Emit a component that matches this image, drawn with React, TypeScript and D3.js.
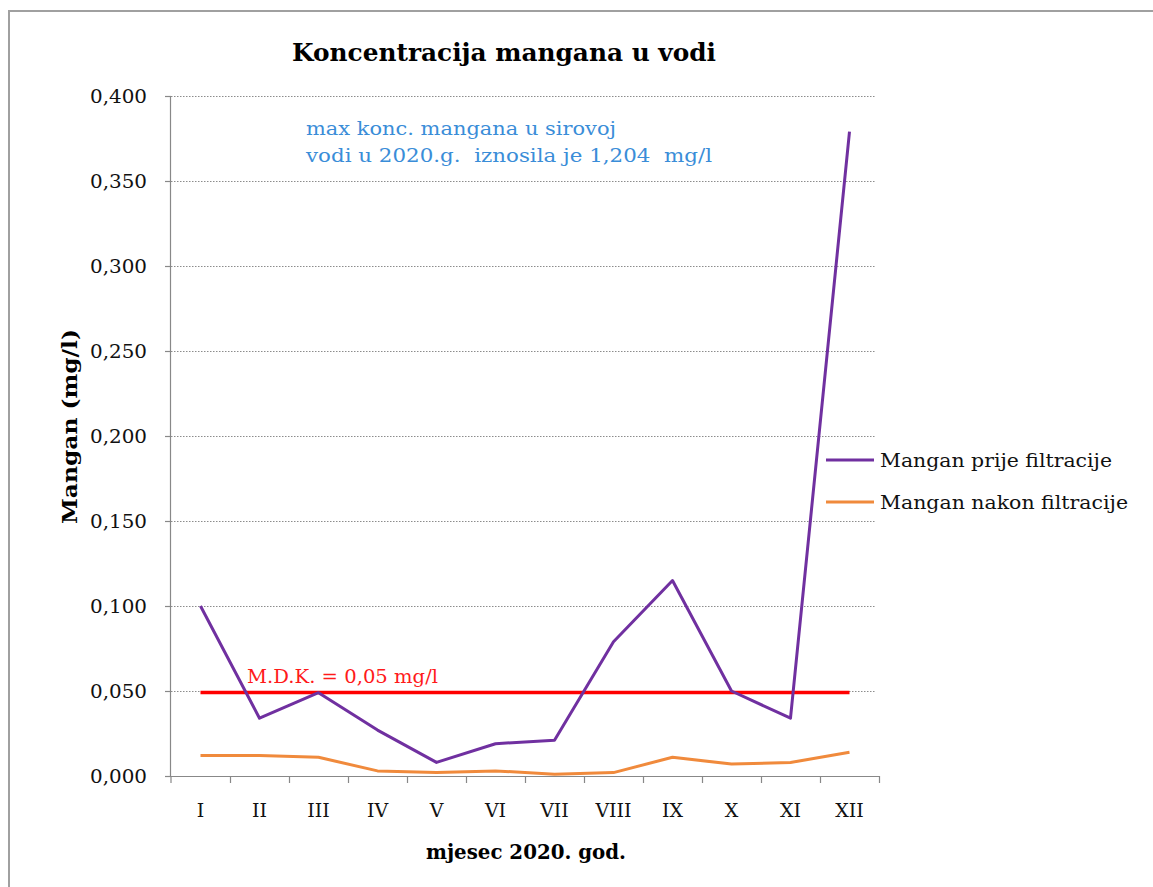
import React from "react";
import * as d3 from "d3";

const months = ["I", "II", "III", "IV", "V", "VI", "VII", "VIII", "IX", "X", "XI", "XII"];
const prije = [0.1, 0.034, 0.049, 0.027, 0.008, 0.019, 0.021, 0.079, 0.115, 0.05, 0.034, 0.379];
const nakon = [0.012, 0.012, 0.011, 0.003, 0.002, 0.003, 0.001, 0.002, 0.011, 0.007, 0.008, 0.014];
const mdk = 0.05;
const yTicks = [0, 0.05, 0.1, 0.15, 0.2, 0.25, 0.3, 0.35, 0.4];
const seriesNames = ["Mangan prije filtracije", "Mangan nakon filtracije"];
const seriesColors = ["#7030A0", "#F08A3C"];
const legendWidths = [232, 248];

const FONT = "'DejaVu Serif', serif";

export default function App() {
  const x = d3.scaleBand<string>().domain(months).range([171, 879]);
  const y = d3.scaleLinear().domain([0, 0.4]).range([776, 96]);
  const cx = (m: string) => (x(m) as number) + x.bandwidth() / 2;
  const line = d3
    .line<number>()
    .x((_, i) => cx(months[i]))
    .y((d) => y(d));
  const fmt = (v: number) => v.toFixed(3).replace(".", ",");

  return (
    <svg
      width={1153}
      height={887}
      style={{ position: "absolute", left: 0, top: 0, display: "block", background: "#fff" }}
      fontFamily={FONT}
    >
      <rect x={9} y={11} width={1200} height={950} fill="#fff" stroke="#a0a0a0" strokeWidth={2} />
      <text x={292} y={61} fontSize={24} fontWeight="bold" fill="#000" textLength={424} lengthAdjust="spacingAndGlyphs">
        Koncentracija mangana u vodi
      </text>
      {/* gridlines */}
      {yTicks.filter((t) => t > 0).map((t) => (
        <line key={t} x1={171} x2={876} y1={y(t) + 0.5} y2={y(t) + 0.5} stroke="#8c8c8c" strokeWidth={1} strokeDasharray="1.5,1.5" />
      ))}
      {/* y axis */}
      <line x1={170.5} x2={170.5} y1={96} y2={776} stroke="#888" strokeWidth={1.2} />
      {yTicks.map((t) => (
        <g key={"yt" + t}>
          <line x1={165} x2={171} y1={y(t) + 0.5} y2={y(t) + 0.5} stroke="#888" strokeWidth={1.2} />
          <text x={147} y={y(t) + 7} textAnchor="end" fontSize={19} fill="#111" textLength={57} lengthAdjust="spacingAndGlyphs">
            {fmt(t)}
          </text>
        </g>
      ))}
      {/* x axis */}
      <line x1={170} x2={879} y1={776.5} y2={776.5} stroke="#888" strokeWidth={1.2} />
      {months.map((m) => (
        <line key={"xt" + m} x1={(x(m) as number) + x.bandwidth() + 0.5} x2={(x(m) as number) + x.bandwidth() + 0.5} y1={776} y2={783} stroke="#888" strokeWidth={1.2} />
      ))}
      <line x1={171} x2={171} y1={776} y2={783} stroke="#888" strokeWidth={1.2} />
      {months.map((m) => (
        <text key={"xl" + m} x={cx(m)} y={817} textAnchor="middle" fontSize={19} fill="#111">
          {m}
        </text>
      ))}
      <text x={426} y={859} fontSize={20} fontWeight="bold" fill="#000" textLength={200} lengthAdjust="spacingAndGlyphs">
        mjesec 2020. god.
      </text>
      <text transform={`translate(77,524) rotate(-90)`} fontSize={20} fontWeight="bold" fill="#000" textLength={195} lengthAdjust="spacingAndGlyphs">
        Mangan (mg/l)
      </text>
      {/* annotation */}
      <text x={306} y={135} fontSize={19} fill="#3A8DD8" textLength={310} lengthAdjust="spacingAndGlyphs">max konc. mangana  u sirovoj</text>
      <text x={306} y={162} fontSize={19} fill="#3A8DD8" style={{ whiteSpace: "pre" }} textLength={406} lengthAdjust="spacingAndGlyphs">
        vodi u 2020.g.  iznosila je 1,204  mg/l
      </text>
      {/* MDK */}
      <line x1={cx("I")} x2={cx("XII")} y1={y(mdk) + 1.5} y2={y(mdk) + 1.5} stroke="#FF0000" strokeWidth={3.5} />
      <text x={247} y={683} fontSize={19} fill="#FF1A1A" textLength={191} lengthAdjust="spacingAndGlyphs">M.D.K. = 0,05 mg/l</text>
      {/* series */}
      <path d={line(nakon) as string} fill="none" stroke={seriesColors[1]} strokeWidth={3} strokeLinejoin="round" />
      <path d={line(prije) as string} fill="none" stroke={seriesColors[0]} strokeWidth={3} strokeLinejoin="round" />
      {/* legend */}
      {seriesNames.map((n, i) => (
        <g key={n}>
          <line x1={826} x2={874} y1={460 + i * 42} y2={460 + i * 42} stroke={seriesColors[i]} strokeWidth={3} />
          <text x={880} y={467 + i * 42} fontSize={19} fill="#111" textLength={legendWidths[i]} lengthAdjust="spacingAndGlyphs">
            {n}
          </text>
        </g>
      ))}
    </svg>
  );
}
